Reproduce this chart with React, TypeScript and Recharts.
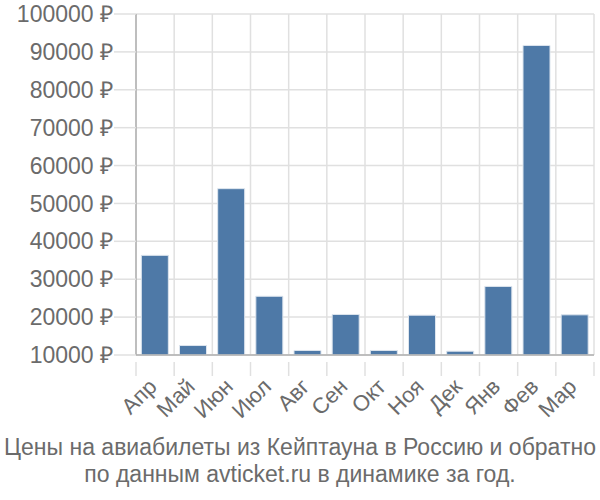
import React from 'react';
import { Bar, BarChart, CartesianGrid, XAxis, YAxis } from 'recharts';

// Average ticket price, Cape Town <-> Russia, by month (roubles)
const months = ['Апр', 'Май', 'Июн', 'Июл', 'Авг', 'Сен', 'Окт', 'Ноя', 'Дек', 'Янв', 'Фев', 'Мар'];
const prices = [36300, 12500, 53900, 25500, 11200, 20700, 11200, 20500, 11000, 28100, 91700, 20600];
const yTicks = [10000, 20000, 30000, 40000, 50000, 60000, 70000, 80000, 90000, 100000];
const titleLines = ['Цены на авиабилеты из Кейптауна в Россию и обратно', 'по данным avticket.ru в динамике за год.'];

const data = months.map((month, i) => ({ month, price: prices[i] }));

const C = {
  bar: '#4e79a7',
  barEdge: '#dde5ee',
  grid: '#e0e0e0',
  axis: '#b0b0b0',
  text: '#6b6b6b',
};

const FONT = '"Liberation Sans", Arial, sans-serif';
const W = 600;
const H = 430;
const MARGIN = { top: 14, right: 6, left: 0, bottom: 0 };
const Y_AXIS_W = 136;
const X_AXIS_H = 75;
const PLOT_W = W - MARGIN.left - MARGIN.right - Y_AXIS_W;
const BAND = PLOT_W / months.length;

// category label, rotated, plus tick marks on the category boundaries
function MonthTick(props: any) {
  const { x, y, index, payload } = props;
  const left = x - BAND / 2;
  const right = x + BAND / 2;
  const ax = x + 3;
  const ay = y + 25;
  return (
    <g>
      <line x1={left} y1={y - 1} x2={left} y2={y + 13} stroke={C.grid} strokeWidth={1.5} />
      {index === months.length - 1 && (
        <line x1={right} y1={y - 1} x2={right} y2={y + 13} stroke={C.grid} strokeWidth={1.5} />
      )}
      <text
        x={ax}
        y={ay}
        textAnchor="end"
        fontSize={22}
        fontFamily={FONT}
        fill={C.text}
        transform={`rotate(-45 ${ax} ${ay})`}
      >
        {payload.value}
      </text>
    </g>
  );
}

export default function App() {
  return (
    <div style={{ position: 'absolute', left: 0, top: 0, width: W, height: 500, background: '#fff' }}>
      <BarChart width={W} height={H} data={data} margin={MARGIN} barCategoryGap="14%">
        <CartesianGrid
          stroke={C.grid}
          strokeWidth={1.5}
          verticalCoordinatesGenerator={({ offset }: any) =>
            months.map((_, i) => offset.left + (i * offset.width) / months.length).concat(offset.left + offset.width)
          }
        />
        <XAxis
          dataKey="month"
          height={X_AXIS_H}
          interval={0}
          axisLine={{ stroke: C.axis, strokeWidth: 1.5 }}
          tickLine={false}
          tick={<MonthTick />}
        />
        <YAxis
          width={Y_AXIS_W}
          domain={[10000, 100000]}
          ticks={yTicks}
          interval={0}
          allowDataOverflow
          tickSize={22}
          tickMargin={1}
          axisLine={{ stroke: C.axis, strokeWidth: 1.5 }}
          tickLine={{ stroke: C.grid, strokeWidth: 1.5 }}
          tick={{ fontSize: 23, fontFamily: FONT, fill: C.text }}
          tickFormatter={(v: number) => `${v} ₽`}
        />
        <Bar dataKey="price" fill={C.bar} stroke={C.barEdge} strokeWidth={1} isAnimationActive={false} />
      </BarChart>
      <div
        style={{
          position: 'absolute',
          left: 0,
          top: 434,
          width: W,
          textAlign: 'center',
          fontFamily: FONT,
          fontSize: 23,
          lineHeight: '27px',
          color: C.text,
          whiteSpace: 'nowrap',
        }}
      >
        {titleLines.map((t) => (
          <div key={t}>{t}</div>
        ))}
      </div>
    </div>
  );
}
